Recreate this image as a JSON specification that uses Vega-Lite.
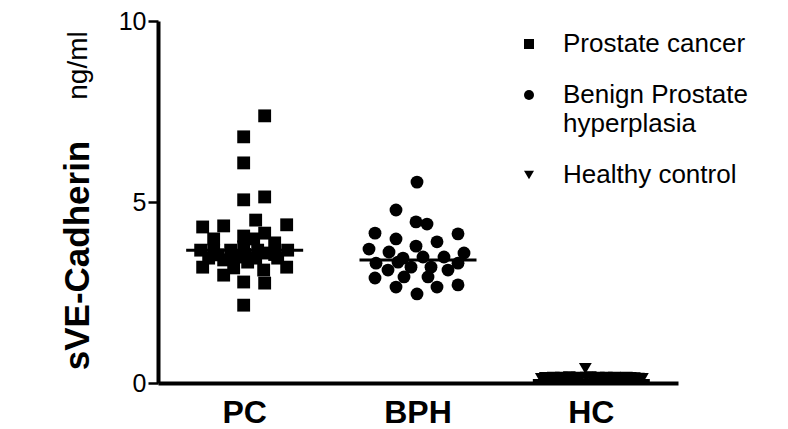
{
  "$schema": "https://vega.github.io/schema/vega-lite/v6.json",
  "width": 520,
  "height": 362,
  "autosize": "none",
  "padding": {"left": 158, "top": 21, "right": 110, "bottom": 46},
  "background": "white",
  "config": {
    "view": {"stroke": null},
    "font": "Liberation Sans",
    "axis": {"grid": false, "domainColor": "black", "tickColor": "black", "labelColor": "black", "titleColor": "black"},
    "style": {"guide-label": {"lineHeight": 29}}
  },
  "datasets": {
    "points": [
      {"cat": "PC", "grp": "Prostate cancer", "jit": 20, "v": 7.38},
      {"cat": "PC", "grp": "Prostate cancer", "jit": -1, "v": 6.80},
      {"cat": "PC", "grp": "Prostate cancer", "jit": -1, "v": 6.08},
      {"cat": "PC", "grp": "Prostate cancer", "jit": -1, "v": 5.06},
      {"cat": "PC", "grp": "Prostate cancer", "jit": 20, "v": 5.14},
      {"cat": "PC", "grp": "Prostate cancer", "jit": -42, "v": 4.31},
      {"cat": "PC", "grp": "Prostate cancer", "jit": -21, "v": 4.34},
      {"cat": "PC", "grp": "Prostate cancer", "jit": 11, "v": 4.50},
      {"cat": "PC", "grp": "Prostate cancer", "jit": 42, "v": 4.37},
      {"cat": "PC", "grp": "Prostate cancer", "jit": -1, "v": 4.06},
      {"cat": "PC", "grp": "Prostate cancer", "jit": 20, "v": 4.14},
      {"cat": "PC", "grp": "Prostate cancer", "jit": -31, "v": 3.98},
      {"cat": "PC", "grp": "Prostate cancer", "jit": 9, "v": 3.98},
      {"cat": "PC", "grp": "Prostate cancer", "jit": 30, "v": 3.87},
      {"cat": "PC", "grp": "Prostate cancer", "jit": -44, "v": 3.67},
      {"cat": "PC", "grp": "Prostate cancer", "jit": -31, "v": 3.67},
      {"cat": "PC", "grp": "Prostate cancer", "jit": -14, "v": 3.67},
      {"cat": "PC", "grp": "Prostate cancer", "jit": -1, "v": 3.76},
      {"cat": "PC", "grp": "Prostate cancer", "jit": 43, "v": 3.67},
      {"cat": "PC", "grp": "Prostate cancer", "jit": 23, "v": 3.59},
      {"cat": "PC", "grp": "Prostate cancer", "jit": -9, "v": 3.48},
      {"cat": "PC", "grp": "Prostate cancer", "jit": 11, "v": 3.45},
      {"cat": "PC", "grp": "Prostate cancer", "jit": -21, "v": 3.40},
      {"cat": "PC", "grp": "Prostate cancer", "jit": 33, "v": 3.45},
      {"cat": "PC", "grp": "Prostate cancer", "jit": 3, "v": 3.34},
      {"cat": "PC", "grp": "Prostate cancer", "jit": -42, "v": 3.20},
      {"cat": "PC", "grp": "Prostate cancer", "jit": 42, "v": 3.20},
      {"cat": "PC", "grp": "Prostate cancer", "jit": -21, "v": 2.98},
      {"cat": "PC", "grp": "Prostate cancer", "jit": -11, "v": 3.18},
      {"cat": "PC", "grp": "Prostate cancer", "jit": 19, "v": 3.12},
      {"cat": "PC", "grp": "Prostate cancer", "jit": -1, "v": 2.79},
      {"cat": "PC", "grp": "Prostate cancer", "jit": 20, "v": 2.76},
      {"cat": "PC", "grp": "Prostate cancer", "jit": -1, "v": 2.15},
      {"cat": "PC", "grp": "Prostate cancer", "jit": -27, "v": 3.54},
      {"cat": "PC", "grp": "Prostate cancer", "jit": 13, "v": 3.67},
      {"cat": "PC", "grp": "Prostate cancer", "jit": 30, "v": 3.55},
      {"cat": "PC", "grp": "Prostate cancer", "jit": -36, "v": 3.45},
      {"cat": "PC", "grp": "Prostate cancer", "jit": 0, "v": 3.55},
      {"cat": "BPH", "grp": "Benign Prostate hyperplasia", "jit": -1, "v": 5.55},
      {"cat": "BPH", "grp": "Benign Prostate hyperplasia", "jit": -22, "v": 4.78},
      {"cat": "BPH", "grp": "Benign Prostate hyperplasia", "jit": -2, "v": 4.45},
      {"cat": "BPH", "grp": "Benign Prostate hyperplasia", "jit": 9, "v": 4.39},
      {"cat": "BPH", "grp": "Benign Prostate hyperplasia", "jit": -43, "v": 4.14},
      {"cat": "BPH", "grp": "Benign Prostate hyperplasia", "jit": -22, "v": 3.98},
      {"cat": "BPH", "grp": "Benign Prostate hyperplasia", "jit": 40, "v": 4.12},
      {"cat": "BPH", "grp": "Benign Prostate hyperplasia", "jit": 19, "v": 3.90},
      {"cat": "BPH", "grp": "Benign Prostate hyperplasia", "jit": -49, "v": 3.70},
      {"cat": "BPH", "grp": "Benign Prostate hyperplasia", "jit": -2, "v": 3.78},
      {"cat": "BPH", "grp": "Benign Prostate hyperplasia", "jit": 46, "v": 3.59},
      {"cat": "BPH", "grp": "Benign Prostate hyperplasia", "jit": -29, "v": 3.62},
      {"cat": "BPH", "grp": "Benign Prostate hyperplasia", "jit": 26, "v": 3.48},
      {"cat": "BPH", "grp": "Benign Prostate hyperplasia", "jit": -15, "v": 3.45},
      {"cat": "BPH", "grp": "Benign Prostate hyperplasia", "jit": 5, "v": 3.48},
      {"cat": "BPH", "grp": "Benign Prostate hyperplasia", "jit": -42, "v": 3.31},
      {"cat": "BPH", "grp": "Benign Prostate hyperplasia", "jit": 40, "v": 3.31},
      {"cat": "BPH", "grp": "Benign Prostate hyperplasia", "jit": -7, "v": 3.20},
      {"cat": "BPH", "grp": "Benign Prostate hyperplasia", "jit": 13, "v": 3.20},
      {"cat": "BPH", "grp": "Benign Prostate hyperplasia", "jit": -30, "v": 3.12},
      {"cat": "BPH", "grp": "Benign Prostate hyperplasia", "jit": 30, "v": 3.12},
      {"cat": "BPH", "grp": "Benign Prostate hyperplasia", "jit": -43, "v": 2.90},
      {"cat": "BPH", "grp": "Benign Prostate hyperplasia", "jit": -14, "v": 2.93},
      {"cat": "BPH", "grp": "Benign Prostate hyperplasia", "jit": 10, "v": 2.93},
      {"cat": "BPH", "grp": "Benign Prostate hyperplasia", "jit": -22, "v": 2.65},
      {"cat": "BPH", "grp": "Benign Prostate hyperplasia", "jit": 19, "v": 2.65},
      {"cat": "BPH", "grp": "Benign Prostate hyperplasia", "jit": 40, "v": 2.71},
      {"cat": "BPH", "grp": "Benign Prostate hyperplasia", "jit": -1, "v": 2.46},
      {"cat": "BPH", "grp": "Benign Prostate hyperplasia", "jit": -20, "v": 3.34},
      {"cat": "HC", "grp": "Healthy control", "jit": -50, "v": 0.12},
      {"cat": "HC", "grp": "Healthy control", "jit": -46, "v": 0.15},
      {"cat": "HC", "grp": "Healthy control", "jit": -42, "v": 0.14},
      {"cat": "HC", "grp": "Healthy control", "jit": -38, "v": 0.16},
      {"cat": "HC", "grp": "Healthy control", "jit": -34, "v": 0.15},
      {"cat": "HC", "grp": "Healthy control", "jit": -30, "v": 0.16},
      {"cat": "HC", "grp": "Healthy control", "jit": -26, "v": 0.15},
      {"cat": "HC", "grp": "Healthy control", "jit": -22, "v": 0.17},
      {"cat": "HC", "grp": "Healthy control", "jit": -18, "v": 0.15},
      {"cat": "HC", "grp": "Healthy control", "jit": -14, "v": 0.16},
      {"cat": "HC", "grp": "Healthy control", "jit": -10, "v": 0.15},
      {"cat": "HC", "grp": "Healthy control", "jit": -6, "v": 0.40},
      {"cat": "HC", "grp": "Healthy control", "jit": -5, "v": 0.16},
      {"cat": "HC", "grp": "Healthy control", "jit": -1, "v": 0.17},
      {"cat": "HC", "grp": "Healthy control", "jit": 3, "v": 0.15},
      {"cat": "HC", "grp": "Healthy control", "jit": 7, "v": 0.16},
      {"cat": "HC", "grp": "Healthy control", "jit": 11, "v": 0.14},
      {"cat": "HC", "grp": "Healthy control", "jit": 15, "v": 0.16},
      {"cat": "HC", "grp": "Healthy control", "jit": 19, "v": 0.15},
      {"cat": "HC", "grp": "Healthy control", "jit": 23, "v": 0.16},
      {"cat": "HC", "grp": "Healthy control", "jit": 27, "v": 0.14},
      {"cat": "HC", "grp": "Healthy control", "jit": 31, "v": 0.15},
      {"cat": "HC", "grp": "Healthy control", "jit": 35, "v": 0.16},
      {"cat": "HC", "grp": "Healthy control", "jit": 39, "v": 0.15},
      {"cat": "HC", "grp": "Healthy control", "jit": 43, "v": 0.14},
      {"cat": "HC", "grp": "Healthy control", "jit": 47, "v": 0.13},
      {"cat": "HC", "grp": "Healthy control", "jit": 51, "v": 0.12}
    ],
    "means": [
      {"cat": "PC", "v": 3.67},
      {"cat": "BPH", "v": 3.40},
      {"cat": "HC", "v": 0.07}
    ]
  },
  "layer": [
    {
      "data": {"name": "points"},
      "mark": {"type": "point", "filled": true, "color": "black", "opacity": 1, "size": 165},
      "encoding": {
        "x": {
          "field": "cat", "type": "nominal", "sort": ["PC", "BPH", "HC"],
          "scale": {"type": "band", "paddingInner": 0, "paddingOuter": 0},
          "axis": {"title": null, "labelAngle": 0, "ticks": false, "domainWidth": 4, "labelFontSize": 32, "labelFontWeight": "bold", "labelPadding": 14}
        },
        "xOffset": {"field": "jit", "type": "quantitative", "scale": {"domain": [-60, 60], "range": [26.67, 146.67]}},
        "y": {
          "field": "v", "type": "quantitative",
          "scale": {"domain": [0, 10]},
          "axis": {
            "values": [0, 5, 10], "tickSize": 10, "tickWidth": 2.5, "domainWidth": 4,
            "labelFontSize": 25, "labelPadding": 2,
            "title": "sVE-Cadherin", "titleFontSize": 35, "titleFontWeight": "bold",
            "titleX": -70, "titleY": 234, "titleAngle": -90, "titleAlign": "center", "titleBaseline": "alphabetic"
          }
        },
        "shape": {
          "field": "grp", "type": "nominal",
          "scale": {"domain": ["Prostate cancer", "Benign Prostate hyperplasia", "Healthy control"], "range": ["square", "circle", "triangle-down"]},
          "legend": {
            "title": null, "orient": "none", "legendX": 358, "legendY": 10,
            "labelFontSize": 26, "labelOffset": 21, "symbolSize": 100, "symbolFillColor": "black", "symbolStrokeColor": "black",
            "rowPadding": 25, "padding": 0, "labelLimit": 300,
            "labelExpr": "datum.label == 'Benign Prostate hyperplasia' ? ['Benign Prostate', 'hyperplasia'] : datum.label"
          }
        }
      }
    },
    {
      "data": {"name": "means"},
      "mark": {"type": "tick", "orient": "horizontal", "color": "black", "opacity": 1, "size": 117, "thickness": 3},
      "encoding": {
        "x": {"field": "cat", "type": "nominal", "sort": ["PC", "BPH", "HC"]},
        "y": {
          "field": "v", "type": "quantitative",
          "axis": {
            "orient": "right", "domain": false, "ticks": false, "labels": false,
            "title": "ng/ml", "titleFontSize": 28, "titleFontWeight": "normal",
            "titleX": -592, "titleY": 44, "titleAngle": -90, "titleAlign": "center", "titleBaseline": "alphabetic"
          }
        }
      }
    }
  ],
  "resolve": {"axis": {"y": "independent"}}
}
